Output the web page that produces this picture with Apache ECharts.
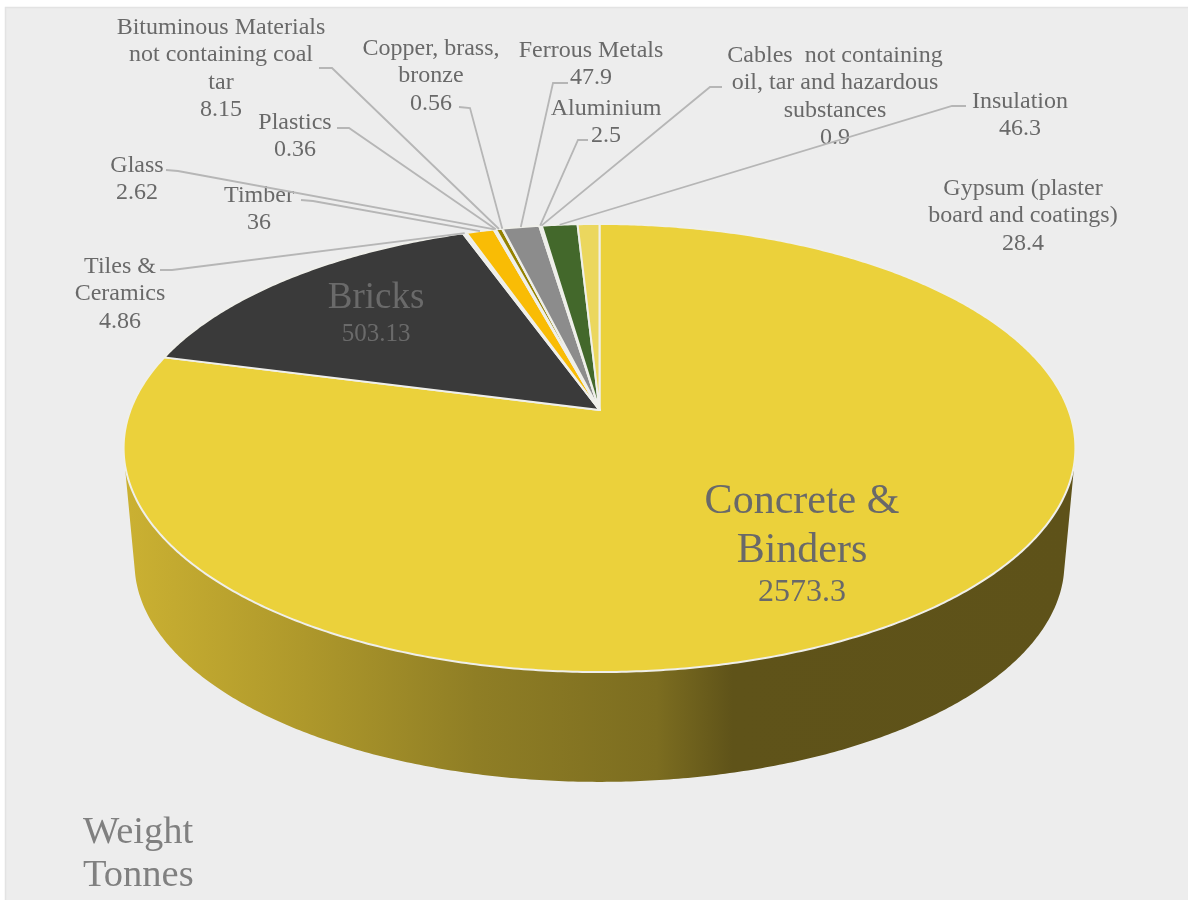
<!DOCTYPE html>
<html>
<head>
<meta charset="utf-8">
<title>Weight Tonnes</title>
<script src="https://cdn.jsdelivr.net/npm/echarts@6/dist/echarts.min.js"></script>
<style>
  html, body { margin: 0; padding: 0; background: #fff; }
  #chart { width: 1188px; height: 900px; }
</style>
</head>
<body>
<div id="chart"></div>
<script>
// Material quantities, clockwise from twelve o'clock
const materials = [
  ['Concrete &', 'Binders'],
  ['Bricks'],
  ['Tiles &', 'Ceramics'],
  ['Timber'],
  ['Glass'],
  ['Plastics'],
  ['Bituminous Materials', 'not containing coal', 'tar'],
  ['Copper, brass,', 'bronze'],
  ['Ferrous Metals'],
  ['Aluminium'],
  ['Cables  not containing', 'oil, tar and hazardous', 'substances'],
  ['Insulation'],
  ['Gypsum (plaster', 'board and coatings)']
];
const tonnes = [2573.3, 503.13, 4.86, 36, 2.62, 0.36, 8.15, 0.56, 47.9, 2.5, 0.9, 46.3, 28.4];
const sliceColours = ['#EBD13B', '#3A3A3A', '#ECECEC', '#F9BC05', '#ECECEC', '#ECECEC', '#948100',
                      '#ECECEC', '#8C8C8C', '#ECECEC', '#ECECEC', '#43682B', '#EBD75E'];

// Label layout: centre x, centre y of first line, elbow start and elbow end of the leader
const labelCentreX = [802, 376, 120, 259, 137, 295, 221, 431, 591, 606, 835, 1020, 1023];
const labelFirstY = [502, 298, 267, 196, 166, 123, 28, 49, 51, 109, 56, 102, 189];
const leaderElbows = [null, null,
  [[160, 270], [172, 270]],
  [[301, 200], [313, 201]],
  [[166, 170], [178, 171]],
  [[337, 128], [349, 128]],
  [[319, 68], [332, 68]],
  [[459, 107], [470, 108]],
  [[568, 83], [553, 83]],
  [[588, 140], [578, 140]],
  [[722, 87], [710, 87]],
  [[966, 106], [952, 106]],
  null];

// Projection of the tilted disc onto the page
const CX = 599.5, APEX_Y = 410, SCALE_X = 469, SCALE_Y = 217.6, PERSPECTIVE = 0.1696;
const FOOT_SCALE = 0.977, TOP_MID_Y = 448, FOOT_MID_Y = 563;
const WALL_FROM = 102.8, WALL_TO = 257.2;

const total = tonnes.reduce((a, b) => a + b, 0);
const starts = [];
tonnes.reduce((acc, v, i) => { starts[i] = acc; return acc + v; }, 0);
const degOf = (v) => v / total * 360;

function rim(deg) {
  const r = deg * Math.PI / 180;
  const u = Math.sin(r), v = -Math.cos(r), d = 1 - PERSPECTIVE * v;
  return [CX + SCALE_X * u / d, APEX_Y + SCALE_Y * v / d];
}
function foot(deg) {
  const p = rim(deg);
  return [CX + (p[0] - CX) * FOOT_SCALE, FOOT_MID_Y + (p[1] - TOP_MID_Y) * FOOT_SCALE];
}
function arc(fn, from, to) {
  const n = Math.max(2, Math.ceil(Math.abs(to - from) * 2));
  const pts = [];
  for (let i = 0; i <= n; i++) pts.push(fn(from + (to - from) * i / n));
  return pts;
}

const wallFill = new echarts.graphic.LinearGradient(0, 0, 1, 0, [
  { offset: 0, color: '#CBB132' },
  { offset: 0.19, color: '#AE982B' },
  { offset: 0.37, color: '#8F7E25' },
  { offset: 0.56, color: '#7C6D20' },
  { offset: 0.64, color: '#5F5319' },
  { offset: 1, color: '#5E5219' }
]);

function drawWall(params, api) {
  const i = api.value(0);
  const a = degOf(starts[i]), b = a + degOf(api.value(1));
  const from = Math.max(a, WALL_FROM), to = Math.min(b, WALL_TO);
  if (to <= from) return { type: 'group', children: [] };
  const points = arc(rim, from, to).concat(arc(foot, to, from));
  return { type: 'polygon', shape: { points }, style: { fill: wallFill } };
}

function drawTop(params, api) {
  const i = api.value(0);
  const a = degOf(starts[i]), b = a + degOf(api.value(1));
  const points = [[CX, APEX_Y]].concat(arc(rim, a, b));
  return {
    type: 'polygon',
    shape: { points },
    style: { fill: sliceColours[i], stroke: '#EFEFEA', lineWidth: 2, lineJoin: 'round' }
  };
}

function drawLabel(params, api) {
  const i = api.value(0);
  const value = api.value(1);
  const children = [];
  const mid = degOf(starts[i]) + degOf(value) / 2;
  if (leaderElbows[i]) {
    children.push({
      type: 'polyline',
      shape: { points: leaderElbows[i].concat([rim(mid)]) },
      style: { fill: null, stroke: '#B6B6B6', lineWidth: 1.8 }
    });
  }
  const big = i === 0, bricks = i === 1;
  const nameSize = big ? 42 : bricks ? 37 : 24;
  const valueSize = big ? 32 : bricks ? 25 : 24;
  const nameLine = big ? 49 : bricks ? 36 : 27.2;
  const colour = bricks ? '#6A6A6A' : '#696969';
  const lines = materials[i];
  const x = labelCentreX[i], y0 = labelFirstY[i];
  lines.forEach((line, k) => {
    children.push({
      type: 'text',
      style: {
        x, y: y0 + k * nameLine, text: line, fill: colour,
        font: nameSize + 'px "Liberation Serif"', textAlign: 'center', textVerticalAlign: 'middle'
      }
    });
  });
  const valueGap = big ? 42 : bricks ? 36 : 27.2;
  children.push({
    type: 'text',
    style: {
      x, y: y0 + (lines.length - 1) * nameLine + valueGap, text: String(value), fill: colour,
      font: valueSize + 'px "Liberation Serif"', textAlign: 'center', textVerticalAlign: 'middle'
    }
  });
  return { type: 'group', children };
}

const rows = tonnes.map((v, i) => [i, v]);
const chart = echarts.init(document.getElementById('chart'), null, { renderer: 'canvas' });
chart.setOption({
  backgroundColor: '#FFFFFF',
  animation: false,
  graphic: [
    { type: 'rect', z: 0, shape: { x: 5.5, y: 7.5, width: 1190, height: 900 },
      style: { fill: '#EDEDED', stroke: '#E3E3E3', lineWidth: 1.5 } },
    { type: 'text', z: 5, style: { x: 83, y: 833, text: 'Weight', fill: '#808080',
      font: '38.5px "Liberation Serif"', textVerticalAlign: 'middle' } },
    { type: 'text', z: 5, style: { x: 83, y: 876, text: 'Tonnes', fill: '#808080',
      font: '38.5px "Liberation Serif"', textVerticalAlign: 'middle' } }
  ],
  series: [
    { type: 'custom', coordinateSystem: 'none', data: rows, renderItem: drawWall, silent: true, z: 2 },
    { type: 'custom', coordinateSystem: 'none', data: rows, renderItem: drawTop, silent: true, z: 3 },
    { type: 'custom', coordinateSystem: 'none', data: rows, renderItem: drawLabel, silent: true, z: 4 }
  ]
});
</script>
</body>
</html>
